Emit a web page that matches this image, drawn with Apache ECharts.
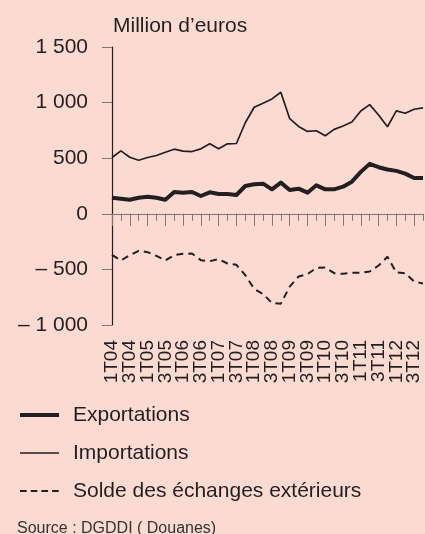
<!DOCTYPE html>
<html>
<head>
<meta charset="utf-8">
<script src="https://cdn.jsdelivr.net/npm/echarts@6/dist/echarts.min.js"></script>
<style>
html,body{margin:0;padding:0;background:#fadad1;}
#c{width:425px;height:534px;}
</style>
</head>
<body>
<div id="c"></div>
<script>
var quarters = ['1T04','2T04','3T04','4T04','1T05','2T05','3T05','4T05','1T06','2T06','3T06','4T06',
  '1T07','2T07','3T07','4T07','1T08','2T08','3T08','4T08','1T09','2T09','3T09','4T09',
  '1T10','2T10','3T10','4T10','1T11','2T11','3T11','4T11','1T12','2T12','3T12','4T12'];
var exportations = [145,136,127,145,154,145,127,196,190,196,160,193,178,178,169,250,265,271,220,280,
  214,226,190,256,220,220,244,289,377,449,419,398,386,361,322,322];
var importations = [506,566,509,482,506,524,554,581,563,560,584,629,584,629,632,819,958,994,1033,1093,
  855,786,741,747,702,759,789,825,925,982,889,783,925,904,940,952];
var solde = [-369,-420,-372,-333,-345,-378,-420,-372,-360,-357,-417,-426,-408,-447,-459,-552,-675,-721,-802,-808,
  -655,-564,-543,-486,-483,-534,-540,-531,-531,-519,-465,-387,-528,-534,-609,-627];
var seriesNames = ['Exportations','Importations','Solde des échanges extérieurs'];
var yTicks = {min:-1000, max:1500, step:500};
var unitLabel = 'Million d’euros';
var sourceLabel = 'Source : DGDDI ( Douanes)';

var ink = '#231f20';
var tickGray = '#7d7776';
var font = 'Liberation Sans, Arial, sans-serif';

function fmt(v){
  var a = Math.abs(v).toString().replace(/\B(?=(\d{3})+(?!\d))/g, ' ');
  return (v < 0 ? '– ' : '') + a;
}

function labelAxis(offsetIdx){
  return {type:'category', data:quarters, boundaryGap:false, position:'bottom',
    axisLine:{show:false, onZero:false},
    axisTick:{show:false},
    axisLabel:{show:true, interval:function(i){return i % 4 === offsetIdx;}, showMinLabel:true, showMaxLabel:true,
      rotate:90, margin:15, fontFamily:font, fontSize:19, color:ink},
    splitLine:{show:false}};
}

var chart = echarts.init(document.getElementById('c'), null, {renderer:'canvas'});
chart.setOption({
  backgroundColor:'#fadad1',
  animation:false,
  title:[
    {text:unitLabel, left:113, top:15, padding:0,
     textStyle:{fontFamily:font, fontSize:21, fontWeight:'normal', color:ink, lineHeight:22}},
    {text:sourceLabel, left:17, top:520, padding:0,
     textStyle:{fontFamily:font, fontSize:16, fontWeight:'normal', color:'#333', lineHeight:18}}
  ],
  grid:{left:112, right:2, top:47, bottom:209, containLabel:false},
  legend:{
    orient:'vertical', left:18, top:403, padding:0,
    itemWidth:39, itemHeight:14, itemGap:14,
    itemStyle:{opacity:0},
    lineStyle:{width:'inherit', type:'inherit'},
    textStyle:{fontFamily:font, fontSize:21, color:ink, lineHeight:24, padding:[0,0,0,9]},
    data:[
      {name:seriesNames[0]},
      {name:seriesNames[1]},
      {name:seriesNames[2], lineStyle:{type:[6.7,4]}}
    ]
  },
  xAxis:[
    {type:'category', data:quarters, boundaryGap:false, position:'bottom',
     axisLine:{show:true, onZero:true, onZeroAxisIndex:0, lineStyle:{color:tickGray, width:1}},
     axisTick:{show:true, interval:0, length:7, lineStyle:{color:tickGray, width:1}},
     axisLabel:{show:false}, splitLine:{show:false}},
    {type:'category', data:quarters, boundaryGap:false, position:'bottom',
     axisLine:{show:false, onZero:true, onZeroAxisIndex:0},
     axisTick:{show:true, interval:1, length:12, lineStyle:{color:tickGray, width:1}},
     axisLabel:{show:false}, splitLine:{show:false}},
    labelAxis(0),
    labelAxis(2)
  ],
  yAxis:{
    type:'value', min:yTicks.min, max:yTicks.max, interval:yTicks.step,
    axisLine:{show:true, onZero:false, lineStyle:{color:ink, width:1.2}},
    axisTick:{show:true, length:10, lineStyle:{color:tickGray, width:1}},
    axisLabel:{show:true, margin:24, fontFamily:font, fontSize:21, color:ink, formatter:fmt},
    splitLine:{show:false}
  },
  series:[
    {name:seriesNames[0], type:'line', data:exportations, symbol:'none', xAxisIndex:0,
     lineStyle:{color:ink, width:4, join:'round'}, itemStyle:{color:ink}},
    {name:seriesNames[1], type:'line', data:importations, symbol:'none', xAxisIndex:0,
     lineStyle:{color:ink, width:1.7}, itemStyle:{color:ink}},
    {name:seriesNames[2], type:'line', data:solde, symbol:'none', xAxisIndex:0,
     lineStyle:{color:ink, width:2, type:[7,5]}, itemStyle:{color:ink}}
  ]
});
</script>
</body>
</html>
